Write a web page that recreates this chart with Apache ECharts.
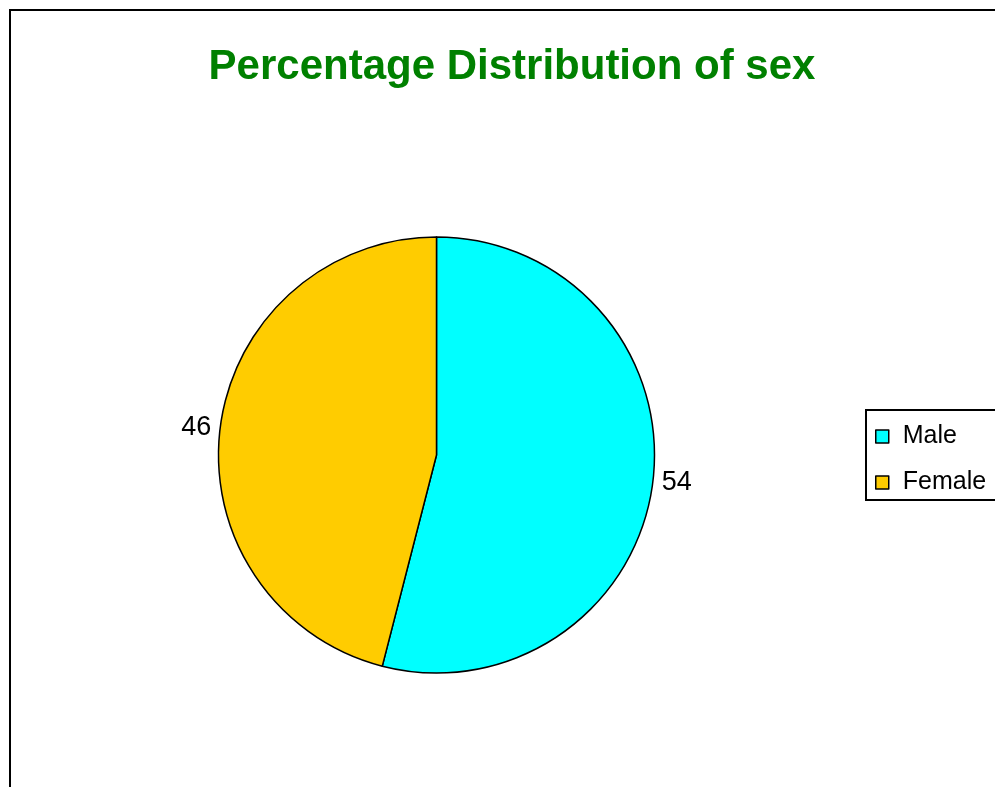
<!DOCTYPE html>
<html>
<head>
<meta charset="utf-8">
<script src="https://cdn.jsdelivr.net/npm/echarts@6/dist/echarts.min.js"></script>
<style>
  html, body { margin: 0; padding: 0; background: #fff; }
  #chart { width: 995px; height: 787px; }
</style>
</head>
<body>
<div id="chart"></div>
<script>
  var categories = ['Male', 'Female'];
  var values = [54, 46];
  var colors = ['#00FFFF', '#FFCC00'];

  var chart = echarts.init(document.getElementById('chart'));

  chart.setOption({
    backgroundColor: '#fff',
    textStyle: { fontFamily: 'Liberation Sans, Arial, sans-serif' },
    title: {
      text: 'Percentage Distribution of sex',
      left: 507,
      top: 41,
      textAlign: 'center',
      textStyle: { color: '#008000', fontSize: 42, fontWeight: 'bold', fontFamily: 'Liberation Sans, Arial, sans-serif' }
    },
    legend: {
      orient: 'vertical',
      left: 866,
      top: 410,
      padding: [14, 20, 5, 9],
      borderColor: '#000',
      borderWidth: 2,
      itemWidth: 13,
      itemHeight: 13,
      itemGap: 21,
      icon: 'rect',
      itemStyle: { borderColor: '#000', borderWidth: 1.5 },
      textStyle: { fontSize: 25, color: '#000', padding: [0, 0, 0, 9] },
      data: categories
    },
    graphic: [{
      type: 'rect',
      shape: { x: 10, y: 10, width: 1100, height: 900 },
      style: { fill: 'none', stroke: '#000', lineWidth: 2 },
      silent: true
    }],
    series: [{
      name: 'sex',
      type: 'pie',
      center: [436.5, 455],
      radius: [0, 218],
      startAngle: 90,
      clockwise: true,
      label: { show: true, position: 'outside', formatter: '{c}', fontSize: 27, color: '#000' },
      labelLine: { show: false, length: 1, length2: 3 },
      itemStyle: { borderColor: '#000', borderWidth: 1.5 },
      emphasis: { disabled: true },
      animation: false,
      data: categories.map(function (c, i) {
        return { name: c, value: values[i], itemStyle: { color: colors[i] } };
      })
    }]
  });
</script>
</body>
</html>
